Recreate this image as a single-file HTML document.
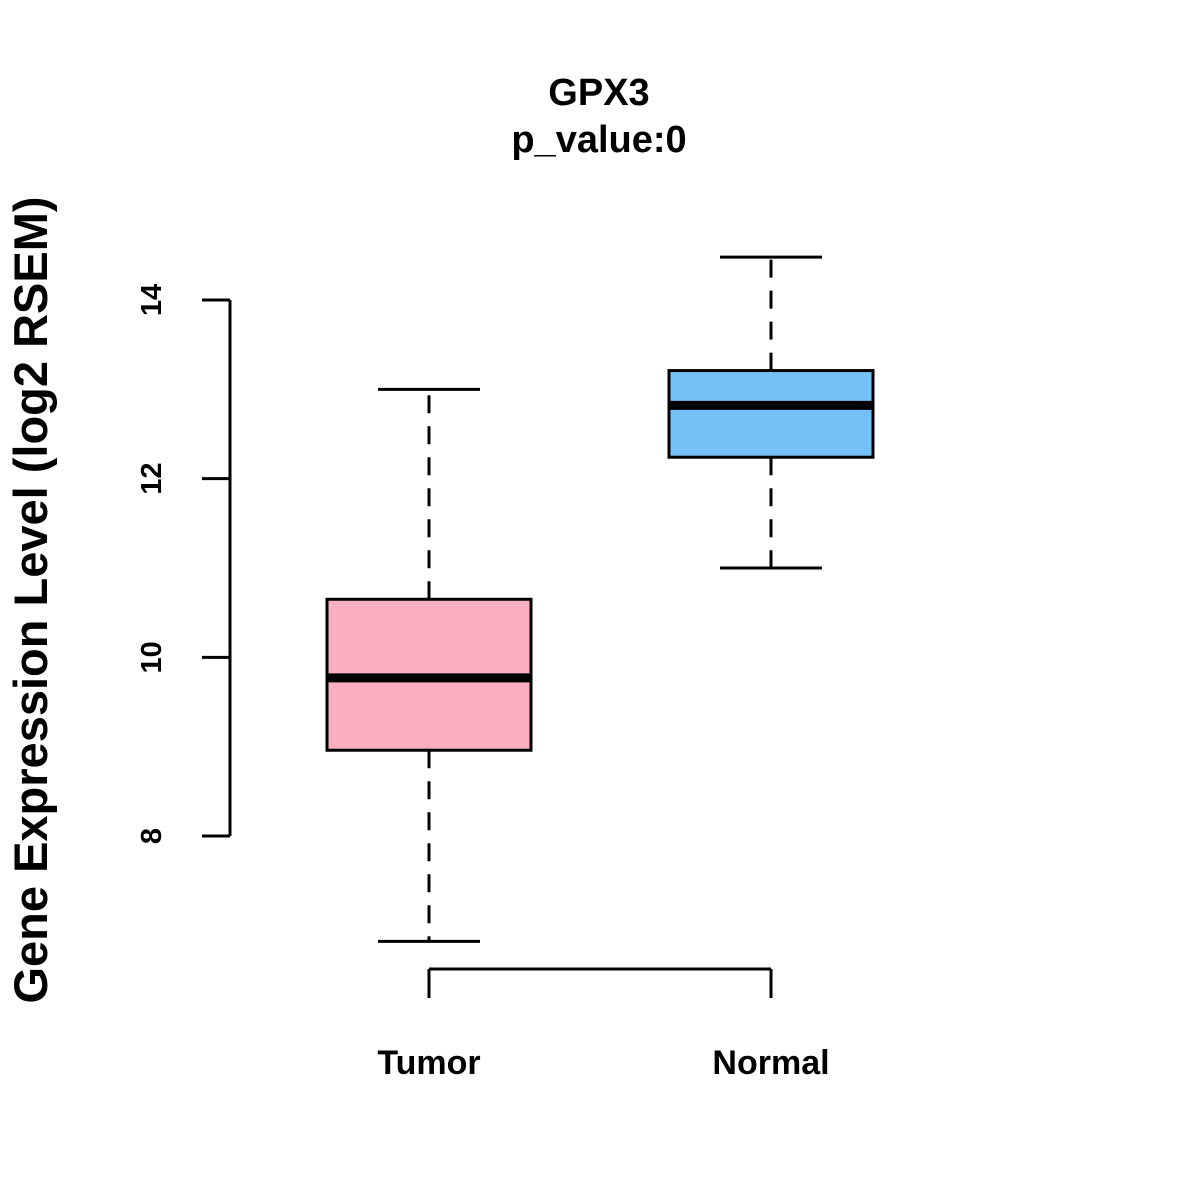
<!DOCTYPE html>
<html><head><meta charset="utf-8"><style>
body{margin:0;background:#fff}
svg{display:block;font-family:"Liberation Sans",Arial,sans-serif}
</style></head><body>
<svg id="chart" width="1200" height="1200" viewBox="0 0 1200 1200">
<rect width="1200" height="1200" fill="#fff"/>
<text x="599" y="105" text-anchor="middle" font-size="38" font-weight="bold">GPX3</text>
<text x="599" y="152" text-anchor="middle" font-size="38" font-weight="bold">p_value:0</text>
<text transform="translate(47,600) rotate(-90)" text-anchor="middle" font-size="47" font-weight="bold">Gene Expression Level (log2 RSEM)</text>
<g id="axes"></g>
<g id="boxes"></g>
</svg>
<script>
const categories = ["Tumor", "Normal"];
const whiskerLow = [6.82, 11.0];
const q1 = [8.96, 12.24];
const medians = [9.77, 12.82];
const q3 = [10.65, 13.21];
const whiskerHigh = [13.0, 14.48];
const colors = ["#fbb0c1", "#75c0f7"];
const yTicks = [8, 10, 12, 14];

const NS = "http://www.w3.org/2000/svg";
function y(v){ return 836 - (v - 8) * (536 / 6); }
function x(i){ return 429 + i * 342; }
function mk(tag, attrs, parent){
  const e = document.createElementNS(NS, tag);
  for (const k in attrs) e.setAttribute(k, attrs[k]);
  parent.appendChild(e);
  return e;
}
const axes = document.getElementById("axes");
const boxes = document.getElementById("boxes");

const yl = mk("line", {x1:230, x2:230, y1:y(yTicks[0]), y2:y(yTicks[yTicks.length-1]), stroke:"#000", "stroke-width":3}, axes);


yTicks.forEach(t => {
  const tk = mk("line", {x1:202, x2:230, y1:y(t), y2:y(t), stroke:"#000", "stroke-width":3}, axes);
  
  
  const tl = mk("text", {transform:`translate(161,${y(t)}) rotate(-90)`, "text-anchor":"middle", "font-size":29, "font-weight":"bold"}, axes);
  tl.textContent = t;
  
  
});
const xl = mk("line", {x1:x(0), x2:x(categories.length-1), y1:969, y2:969, stroke:"#000", "stroke-width":3}, axes);


categories.forEach((c, i) => {
  const tk = mk("line", {x1:x(i), x2:x(i), y1:969, y2:998, stroke:"#000", "stroke-width":3}, axes);
  
  
  const tl = mk("text", {x:x(i), y:1074, "text-anchor":"middle", "font-size":34, "font-weight":"bold"}, axes);
  tl.textContent = c;
  
  
});

categories.forEach((c, i) => {
  const g = mk("g", {}, boxes);
  
  
  const cx = x(i);
  const w1 = mk("line", {x1:cx, x2:cx, y1:y(q3[i]), y2:y(whiskerHigh[i]), stroke:"#000", "stroke-width":3, "stroke-dasharray":"18 13"}, g);
  
  
  const w2 = mk("line", {x1:cx, x2:cx, y1:y(q1[i]), y2:y(whiskerLow[i]), stroke:"#000", "stroke-width":3, "stroke-dasharray":"18 13"}, g);
  
  
  const c1 = mk("line", {x1:cx-51, x2:cx+51, y1:y(whiskerHigh[i]), y2:y(whiskerHigh[i]), stroke:"#000", "stroke-width":3}, g);
  
  
  const c2 = mk("line", {x1:cx-51, x2:cx+51, y1:y(whiskerLow[i]), y2:y(whiskerLow[i]), stroke:"#000", "stroke-width":3}, g);
  
  
  const r = mk("rect", {x:cx-102, y:y(q3[i]), width:204, height:y(q1[i]) - y(q3[i]), fill:colors[i], stroke:"#000", "stroke-width":3}, g);
  
  
  const m = mk("line", {x1:cx-102, x2:cx+102, y1:y(medians[i]), y2:y(medians[i]), stroke:"#000", "stroke-width":9}, g);
  
  
});
</script>
</body></html>
